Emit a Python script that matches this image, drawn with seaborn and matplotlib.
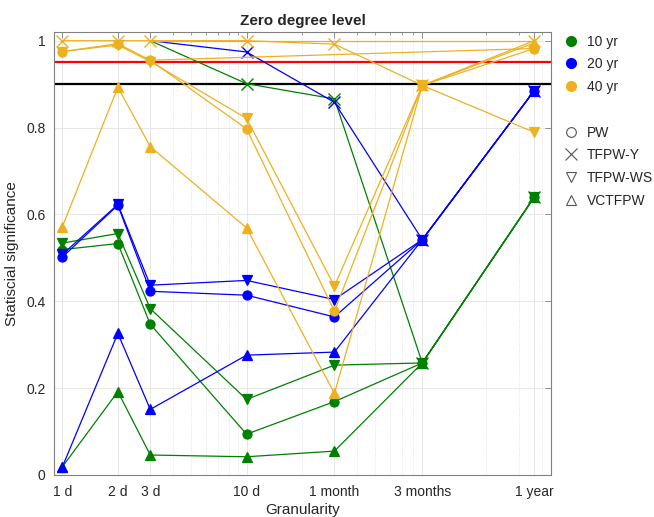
import numpy as np
import pandas as pd
import matplotlib
matplotlib.use("Agg")
import matplotlib.pyplot as plt
from matplotlib.lines import Line2D
from matplotlib.ticker import FixedLocator, LogLocator, NullFormatter
import seaborn as sns

# ---------------- data ----------------
x_days = [1, 2, 3, 10, 30, 90, 365]
tick_labels = ["1 d", "2 d", "3 d", "10 d", "1 month", "3 months", "1 year"]
periods = ["10 yr", "20 yr", "40 yr"]
methods = ["PW", "TFPW-Y", "TFPW-WS", "VCTFPW"]

g_pw = [0.519, 0.533, 0.347, 0.094, 0.169, 0.258, 0.640]
g_tfpwy = [np.nan, np.nan, 1.0, 0.901, 0.866, 0.258, 0.640]
g_tfpwws = [0.534, 0.556, 0.383, 0.174, 0.253, 0.258, 0.640]
g_vctfpw = [0.019, 0.192, 0.046, 0.042, 0.055, 0.258, 0.640]

b_pw = [0.502, 0.621, 0.423, 0.414, 0.364, 0.542, 0.885]
b_tfpwy = [np.nan, np.nan, 1.0, 0.974, 0.858, 0.542, 0.885]
b_tfpwws = [0.508, 0.623, 0.437, 0.448, 0.404, 0.542, 0.885]
b_vctfpw = [0.019, 0.326, 0.151, 0.276, 0.283, 0.542, 0.885]

y_pw = [0.975, 0.993, 0.955, 0.797, 0.377, 0.897, 0.982]
y_tfpwy = [1.0, 1.0, 1.0, 1.0, 0.992, 0.897, 1.0]
y_tfpwws = [0.975, 0.990, 0.952, 0.821, 0.435, 0.897, 0.789]
y_vctfpw = [0.572, 0.893, 0.756, 0.569, 0.188, 0.897, 0.995]

# extra 40 yr segments (only 3 d and 1 year present)
y_extra_a = [np.nan, np.nan, 1.0, np.nan, np.nan, np.nan, 1.0]
y_extra_b = [np.nan, np.nan, 0.955, np.nan, np.nan, np.nan, 0.982]

thresh_95 = 0.95
thresh_90 = 0.90

series = {
    "10 yr": [g_pw, g_tfpwy, g_tfpwws, g_vctfpw],
    "20 yr": [b_pw, b_tfpwy, b_tfpwws, b_vctfpw],
    "40 yr": [y_pw, y_tfpwy, y_tfpwws, y_vctfpw],
}
colors = {"10 yr": "#008000", "20 yr": "#0000FF", "40 yr": "#EDB120"}
markers = {"PW": "o", "TFPW-Y": "x", "TFPW-WS": "v", "VCTFPW": "^"}

# ---------------- plot ----------------
sns.set_theme(style="white")
plt.rcParams["font.family"] = ["Liberation Sans", "DejaVu Sans"]

fig = plt.figure(figsize=(6.54, 5.17), dpi=100)
ax = fig.add_axes([54 / 654, 1 - 475 / 517, (551 - 54) / 654, (475 - 32) / 517])

ax.axhline(thresh_95, color="#FF0000", lw=1.6, zorder=1.5)
ax.axhline(thresh_90, color="black", lw=1.6, zorder=1.5)

for p in periods:
    c = colors[p]
    for m, vals in zip(methods, series[p]):
        df = pd.DataFrame({"x": x_days, "y": vals}).dropna()
        mk = markers[m]
        kw = dict(marker=mk, markersize=6.5, markeredgecolor=c,
                  markerfacecolor=c, markeredgewidth=0.9)
        if mk == "x":
            kw.update(markersize=8, markeredgewidth=1.0)
            if p != "40 yr":
                # first point hidden beneath the 40 yr cross
                kw.update(markevery=slice(1, None))
        sns.lineplot(data=df, x="x", y="y", ax=ax, color=c, lw=0.9,
                     estimator=None, sort=False, legend=False, zorder=3, **kw)
    if p == "40 yr":
        for vals in (y_extra_a, y_extra_b):
            df = pd.DataFrame({"x": x_days, "y": vals}).dropna()
            sns.lineplot(data=df, x="x", y="y", ax=ax, color=c, lw=0.9,
                         estimator=None, sort=False, legend=False, zorder=3)

ax.set_xscale("log")
ax.set_xlim(0.9, 450)
ax.set_ylim(0, 1.02)
ax.xaxis.set_major_locator(FixedLocator(x_days))
ax.set_xticklabels(tick_labels)
ax.xaxis.set_minor_locator(LogLocator(base=10, subs=np.arange(2, 10), numticks=20))
ax.xaxis.set_minor_formatter(NullFormatter())
ax.set_yticks([0, 0.2, 0.4, 0.6, 0.8, 1.0])
ax.set_yticklabels(["0", "0.2", "0.4", "0.6", "0.8", "1"])

ax.grid(True, which="major", color="#e3e3e3", lw=0.6, ls="-")
ax.grid(True, which="minor", axis="x", color="#dcdcdc", lw=0.6, ls=":")
ax.set_axisbelow(True)

for s in ax.spines.values():
    s.set_color("#808080")
    s.set_linewidth(0.8)
ax.tick_params(which="both", direction="in", top=True, right=True,
               colors="#808080", labelcolor="#262626", labelsize=10)
ax.tick_params(which="major", length=4, width=0.6)
ax.tick_params(which="minor", length=2.5, width=0.5)
ax.tick_params(axis="x", which="major", pad=7)
ax.tick_params(axis="y", which="major", pad=6)

ax.set_xlabel("Granularity", fontsize=11, color="#262626", labelpad=3)
ax.set_ylabel("Statiscial significance", fontsize=11, color="#262626", labelpad=5)
ax.set_title("Zero degree level", fontsize=11, fontweight="bold", pad=5)

handles, labels = [], []
for p in periods:
    handles.append(Line2D([], [], ls="none", marker="o", markersize=7,
                          markerfacecolor=colors[p], markeredgecolor=colors[p]))
    labels.append(p)
handles.append(Line2D([], [], ls="none"))
labels.append("")
for m in methods:
    mk = markers[m]
    handles.append(Line2D([], [], ls="none", marker=mk, markersize=8 if mk == "x" else 7,
                          markerfacecolor="none", markeredgecolor="#555555",
                          markeredgewidth=0.8))
    labels.append(m)

leg = ax.legend(handles, labels, loc="upper left", bbox_to_anchor=(1.01, 1.013),
                frameon=False, fontsize=10, handlelength=1.0, handletextpad=0.6,
                labelspacing=0.63, borderaxespad=0.2)
for t in leg.get_texts():
    t.set_color("#262626")

fig.savefig("out.png", dpi=100)
